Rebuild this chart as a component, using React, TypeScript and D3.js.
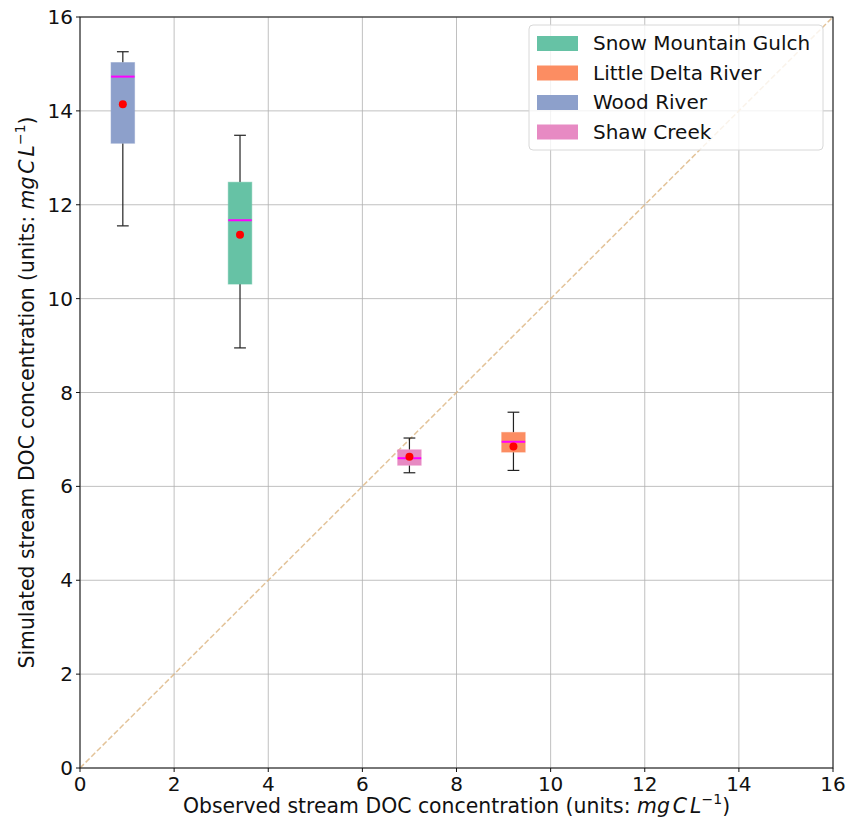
import React from 'react';
import * as d3 from 'd3';

// site boxes: [whiskerLow, q1, median, q3, whiskerHigh], mean, observed x
const sites = ['Snow Mountain Gulch', 'Little Delta River', 'Wood River', 'Shaw Creek'];
const colors = ['#66c2a5', '#fc8d62', '#8da0cb', '#e78ac3'];
const observed = [3.4, 9.21, 0.91, 7.0];
const boxStats = [
  [8.95, 10.31, 11.67, 12.48, 13.48],
  [6.34, 6.73, 6.95, 7.15, 7.58],
  [11.55, 13.31, 14.73, 15.03, 15.26],
  [6.29, 6.45, 6.6, 6.78, 7.03],
];
const means = [11.36, 6.85, 14.14, 6.63];
const ticks = [0, 2, 4, 6, 8, 10, 12, 14, 16];

const W = 849;
const H = 822;
const m = { left: 80, right: 833, top: 17, bottom: 768 };
const font = 'DejaVu Sans, sans-serif';

const App = () => {
  const x = d3.scaleLinear().domain([0, 16]).range([m.left, m.right]);
  const y = d3.scaleLinear().domain([0, 16]).range([m.bottom, m.top]);
  const boxW = 0.5;

  const unitLabel = (pre: string) => (
    <>
      {pre}
      <tspan fontStyle="italic">mg</tspan>
      <tspan fontStyle="italic" dx="3">C</tspan>
      <tspan fontStyle="italic" dx="3">L</tspan>
      <tspan fontSize="14" dy="-9">−1</tspan>
      <tspan dy="9">)</tspan>
    </>
  );

  return (
    <svg width={W} height={H} style={{ position: 'absolute', left: 0, top: 0 }} fontFamily={font}>
      <rect width={W} height={H} fill="#fff" />
      {/* grid */}
      {ticks.map(t => (
        <g key={'g' + t}>
          <line x1={x(t)} x2={x(t)} y1={m.top} y2={m.bottom} stroke="#b0b0b0" strokeWidth={0.8} />
          <line x1={m.left} x2={m.right} y1={y(t)} y2={y(t)} stroke="#b0b0b0" strokeWidth={0.8} />
        </g>
      ))}
      {/* 1:1 line */}
      <line x1={x(0)} y1={y(0)} x2={x(16)} y2={y(16)} stroke="#deb887" strokeOpacity={0.85}
        strokeWidth={1.5} strokeDasharray="5.5,2.5" />
      {/* boxes */}
      {sites.map((s, i) => {
        const [lo, q1, med, q3, hi] = boxStats[i];
        const cx = x(observed[i]);
        const hw = (x(boxW) - x(0)) / 2;
        return (
          <g key={s}>
            <line x1={cx} x2={cx} y1={y(hi)} y2={y(q3)} stroke="#222" strokeWidth={1.2} />
            <line x1={cx} x2={cx} y1={y(q1)} y2={y(lo)} stroke="#222" strokeWidth={1.2} />
            <line x1={cx - hw / 2} x2={cx + hw / 2} y1={y(hi)} y2={y(hi)} stroke="#222" strokeWidth={1.2} />
            <line x1={cx - hw / 2} x2={cx + hw / 2} y1={y(lo)} y2={y(lo)} stroke="#222" strokeWidth={1.2} />
            <rect x={cx - hw} width={hw * 2} y={y(q3)} height={y(q1) - y(q3)} fill={colors[i]}
              stroke={colors[i]} strokeOpacity={0.5} strokeWidth={1} />
            <line x1={cx - hw} x2={cx + hw} y1={y(med)} y2={y(med)} stroke="#ff00ff" strokeWidth={2} />
            <circle cx={cx} cy={y(means[i])} r={4} fill="#ff0000" />
          </g>
        );
      })}
      {/* spines */}
      <rect x={m.left} y={m.top} width={m.right - m.left} height={m.bottom - m.top} fill="none" stroke="#111" strokeWidth={1} />
      {/* ticks */}
      {ticks.map(t => (
        <g key={'t' + t} fontSize="20" fill="#111">
          <line x1={x(t)} x2={x(t)} y1={m.bottom} y2={m.bottom + 4} stroke="#111" />
          <text x={x(t)} y={m.bottom + 23} textAnchor="middle">{d3.format('d')(t)}</text>
          <line x1={m.left - 4} x2={m.left} y1={y(t)} y2={y(t)} stroke="#111" />
          <text x={m.left - 7} y={y(t) + 7} textAnchor="end">{d3.format('d')(t)}</text>
        </g>
      ))}
      {/* axis labels */}
      <text x={(m.left + m.right) / 2} y={813} textAnchor="middle" fontSize="20.4" fill="#111">
        {unitLabel('Observed stream DOC concentration (units: ')}
      </text>
      <text transform={`translate(34, ${(m.top + m.bottom) / 2}) rotate(-90)`} textAnchor="middle" fontSize="20.4" fill="#111">
        {unitLabel('Simulated stream DOC concentration (units: ')}
      </text>
      {/* legend */}
      <g>
        <rect x={529} y={25} width={294} height={125} rx={4} fill="#fff" fillOpacity={0.8} stroke="#d8d8d8" />
        {sites.map((s, i) => (
          <g key={'l' + s} transform={`translate(0, ${43 + i * 29.5})`}>
            <rect x={537} y={-7} width={41} height={15} fill={colors[i]} />
            <text x={593} y={7} fontSize="20" fill="#111">{s}</text>
          </g>
        ))}
      </g>
    </svg>
  );
};

export default App;
